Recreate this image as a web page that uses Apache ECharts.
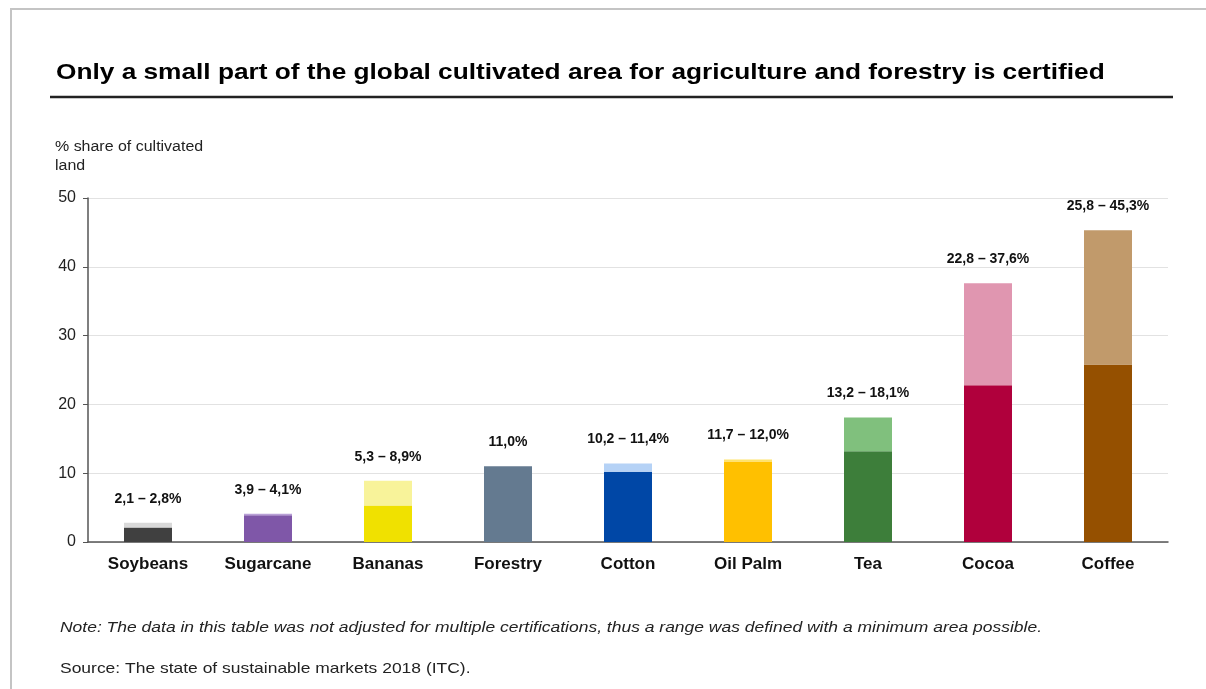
<!DOCTYPE html>
<html>
<head>
<meta charset="utf-8">
<script src="https://cdn.jsdelivr.net/npm/echarts@6/dist/echarts.min.js"></script>
<style>
html,body{margin:0;padding:0;background:#fff;}
#frame{position:absolute;left:10px;top:8px;width:1300px;height:800px;border-top:2px solid #c4c4c4;border-left:2px solid #c4c4c4;}
#chart{position:absolute;left:0;top:0;width:1206px;height:689px;}
</style>
</head>
<body>
<div id="frame"></div>
<div id="chart"></div>
<script>
var categories = ['Soybeans','Sugarcane','Bananas','Forestry','Cotton','Oil Palm','Tea','Cocoa','Coffee'];
var minValues = [2.1, 3.9, 5.3, 11.0, 10.2, 11.7, 13.2, 22.8, 25.8];
var maxValues = [2.8, 4.1, 8.9, 11.0, 11.4, 12.0, 18.1, 37.6, 45.3];
var darkColors = ['#404040','#7f57a8','#f0e100','#647a90','#0047a6','#ffc000','#3d7e3a','#b0003c','#955000'];
var lightColors = ['#d9d9d9','#b9a0d6','#f8f39a','#647a90','#b5d2f6','#ffe36a','#80c07d','#e096b0','#c19a6b'];
var yTicks = [0, 10, 20, 30, 40, 50];

function fmt(v){ return v.toFixed(1).replace('.', ','); }

var chart = echarts.init(document.getElementById('chart'), null, {renderer:'canvas'});
var FONT = '"Liberation Sans", Arial, sans-serif';

var option = {
  animation: false,
  textStyle: {fontFamily: FONT},
  grid: {left: 88, right: 38, top: 198, bottom: 147, containLabel: false},
  xAxis: {
    type: 'category',
    data: categories,
    axisLine: {lineStyle: {color: '#555', width: 1.5}},
    axisTick: {show: false},
    axisLabel: {color: '#111', fontWeight: 'bold', fontSize: 17, margin: 14, fontFamily: FONT}
  },
  yAxis: {
    type: 'value',
    min: yTicks[0],
    max: yTicks[yTicks.length-1],
    interval: 10,
    axisLine: {show: true, lineStyle: {color: '#555', width: 1.5}},
    axisTick: {show: true, length: 5, lineStyle: {color: '#555'}},
    axisLabel: {color: '#222', fontSize: 16, margin: 12, fontFamily: FONT},
    splitLine: {lineStyle: {color: '#e2e2e2', width: 1}}
  },
  series: [
    {
      type: 'bar',
      stack: 'range',
      barWidth: 48,
      data: minValues.map(function(v, i){ return {value: v, itemStyle: {color: darkColors[i]}}; })
    },
    {
      type: 'bar',
      stack: 'range',
      barWidth: 48,
      data: maxValues.map(function(v, i){ return {value: +(v - minValues[i]).toFixed(2), itemStyle: {color: lightColors[i]}}; }),
      label: {
        show: true,
        position: 'top',
        distance: 17,
        color: '#111',
        fontWeight: 'bold',
        fontSize: 14,
        fontFamily: FONT,
        formatter: function(p){
          var i = p.dataIndex;
          if (minValues[i] === maxValues[i]) return fmt(maxValues[i]) + '%';
          return fmt(minValues[i]) + ' – ' + fmt(maxValues[i]) + '%';
        }
      }
    }
  ],
  graphic: [
    {type: 'text', x: 56, y: 62, scaleX: 1.193, style: {text: 'Only a small part of the global cultivated area for agriculture and forestry is certified', font: 'bold 22px ' + FONT, fill: '#000', verticalAlign: 'top'}},
    {type: 'line', shape: {x1: 50, y1: 97, x2: 1173, y2: 97}, style: {stroke: '#222', lineWidth: 2.5}},
    {type: 'text', x: 55, y: 138, scaleX: 1.14, style: {text: '% share of cultivated\nland', font: '14px ' + FONT, fill: '#222', lineHeight: 19, verticalAlign: 'top'}},
    {type: 'text', x: 60, y: 620, scaleX: 1.165, style: {text: 'Note: The data in this table was not adjusted for multiple certifications, thus a range was defined with a minimum area possible.', font: 'italic 15px ' + FONT, fill: '#222', verticalAlign: 'top'}},
    {type: 'text', x: 60, y: 661, scaleX: 1.164, style: {text: 'Source: The state of sustainable markets 2018 (ITC).', font: '15px ' + FONT, fill: '#222', verticalAlign: 'top'}}
  ]
};
chart.setOption(option);
</script>
</body>
</html>
